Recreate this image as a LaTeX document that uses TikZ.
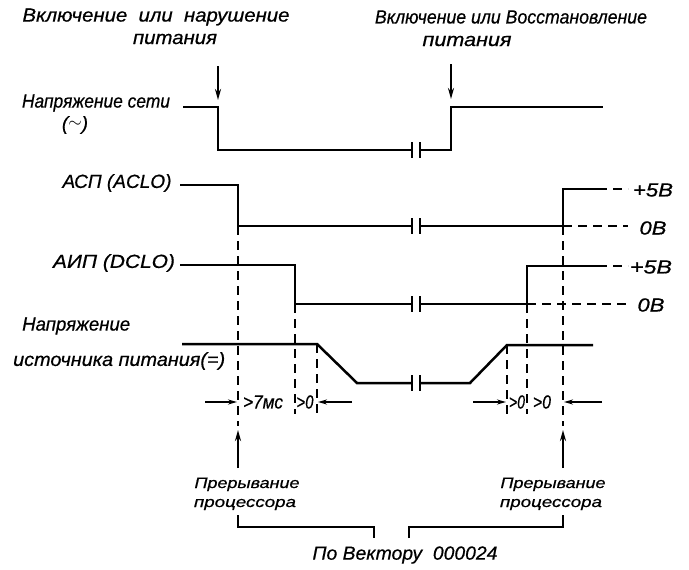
\documentclass[tikz,border=0pt]{standalone}
\usepackage{fontspec}
\setmainfont{Liberation Sans}[ItalicFeatures={FakeBold=0.6}]
\usetikzlibrary{arrows.meta}
\newcommand\fitw[2]{\resizebox{#1}{\height}{#2}}
\begin{document}
\begin{tikzpicture}[x=1pt,y=-1pt,
  sig/.style={line width=2.5pt, line join=miter},
  dsh/.style={line width=2pt, dash pattern=on 9pt off 6pt},
  lbl/.style={font=\fontsize{19}{21}\selectfont\itshape, inner sep=0pt},
  sml/.style={font=\fontsize{15}{17}\selectfont\itshape, inner sep=0pt},
  darr/.style={line width=2.6pt, -{Stealth[length=11pt,width=6pt]}},
  tarr/.style={line width=1.8pt, -{Stealth[length=9pt,width=5pt]}},
  brk/.style={line width=2pt}]
\path[use as bounding box] (0,0) rectangle (689,570);

% top texts
\node[lbl] (t1) at (156,17) {\fitw{267pt}{Включение \ или \ нарушение}};
\node[lbl] (t2) at (175,39) {\fitw{84pt}{питания}};
\node[lbl] (t3) at (511,17) {\fitw{272pt}{Включение или Восстановление}};
\node[lbl] (t4) at (467,41) {\fitw{89pt}{питания}};
\coordinate (a1s) at (218,66); \coordinate (a1e) at (218,100);
\coordinate (a2s) at (451,64); \coordinate (a2e) at (451,99);
\draw[darr] (a1s) -- (a1e);
\draw[darr] (a2s) -- (a2e);

% mains voltage
\node[lbl] (m1) at (96,103) {\fitw{148pt}{Напряжение сети}};
\node[lbl] (m2) at (75,125) {(\raisebox{0.2ex}{$\sim$})};
\draw[sig] (183,107) -- (218,107) -- (218,150) -- (412,150);
\draw[sig] (420,150) -- (451,150) -- (451,107) -- (603,107);
\draw[brk] (412,142) -- (412,158) (420,142) -- (420,158);

% ACLO
\node[lbl] (s1) at (117,183) {\fitw{109pt}{АСП (ACLO)}};
\draw[sig] (180,185) -- (238,185) -- (238,226) -- (412,226);
\draw[sig] (420,226) -- (563,226) -- (563,189) -- (598,189);
\draw[dsh] (598,189) -- (628,189);
\draw[dsh] (563,226) -- (628,226);
\draw[brk] (412,218) -- (412,234) (420,218) -- (420,234);
\node[lbl] (v1) at (653,190) {\fitw{40pt}{+5В}};
\node[lbl] (v2) at (653,228) {\fitw{27pt}{0В}};

% DCLO
\node[lbl] (s2) at (114,263) {\fitw{122pt}{АИП (DCLO)}};
\draw[sig] (180,265) -- (295,265) -- (295,304) -- (412,304);
\draw[sig] (420,304) -- (527,304) -- (527,266) -- (598,266);
\draw[dsh] (598,266) -- (628,266);
\draw[dsh] (527,304) -- (628,304);
\draw[brk] (412,296) -- (412,312) (420,296) -- (420,312);
\node[lbl] (v3) at (651,267) {\fitw{42pt}{+5В}};
\node[lbl] (v4) at (651,305) {\fitw{27pt}{0В}};

% power supply voltage
\node[lbl,anchor=west] (p1) at (22,326) {\fitw{108pt}{Напряжение}};
\node[lbl,anchor=west] (p2) at (13,361) {\fitw{212pt}{источника питания(=)}};
\draw[sig] (182,344) -- (317,344) -- (357,383) -- (412,383);
\draw[sig] (420,383) -- (470,383) -- (507,345) -- (593,345);
\draw[brk] (412,375) -- (412,391) (420,375) -- (420,391);

% dashed verticals
\draw[dsh] (238,226) -- (238,426);
\draw[dsh] (295,304) -- (295,414);
\draw[dsh] (317,344) -- (317,414);
\draw[dsh] (507,345) -- (507,414);
\draw[dsh] (527,304) -- (527,414);
\draw[dsh] (563,226) -- (563,426);

% time intervals
\coordinate (i1) at (205,402); \coordinate (i1e) at (237,402);
\coordinate (i2) at (352,402); \coordinate (i2e) at (318,402);
\coordinate (i3) at (473,402); \coordinate (i3e) at (506,402);
\coordinate (i4) at (602,402); \coordinate (i4e) at (564,402);
\draw[tarr] (i1) -- (i1e);
\draw[tarr] (i2) -- (i2e);
\draw[tarr] (i3) -- (i3e);
\draw[tarr] (i4) -- (i4e);
\node[lbl] (d1) at (263,402) {\fitw{40pt}{>7мс}};
\node[lbl] (d2) at (305,402) {\fitw{17pt}{>0}};
\node[lbl] (d3) at (517,402) {\fitw{16pt}{>0}};
\node[lbl] (d4) at (542,402) {\fitw{18pt}{>0}};

% interrupts
\coordinate (u1s) at (238,468); \coordinate (u1e) at (238,430);
\coordinate (u2s) at (563,468); \coordinate (u2e) at (563,430);
\draw[darr] (u1s) -- (u1e);
\draw[darr] (u2s) -- (u2e);
\node[sml,anchor=base] (r1) at (247,488) {\fitw{105pt}{Прерывание}};
\node[sml,anchor=base] (r2) at (245,507) {\fitw{102pt}{процессора}};
\node[sml,anchor=base] (r3) at (553,488) {\fitw{105pt}{Прерывание}};
\node[sml,anchor=base] (r4) at (551,507) {\fitw{102pt}{процессора}};
\draw[brk] (238,515) -- (238,527) -- (374,527) -- (374,538);
\draw[brk] (409,538) -- (409,527) -- (563,527) -- (563,515);
\node[lbl] (b1) at (405,555) {\fitw{185pt}{По Вектору \ 000024}};
\end{tikzpicture}
\end{document}
